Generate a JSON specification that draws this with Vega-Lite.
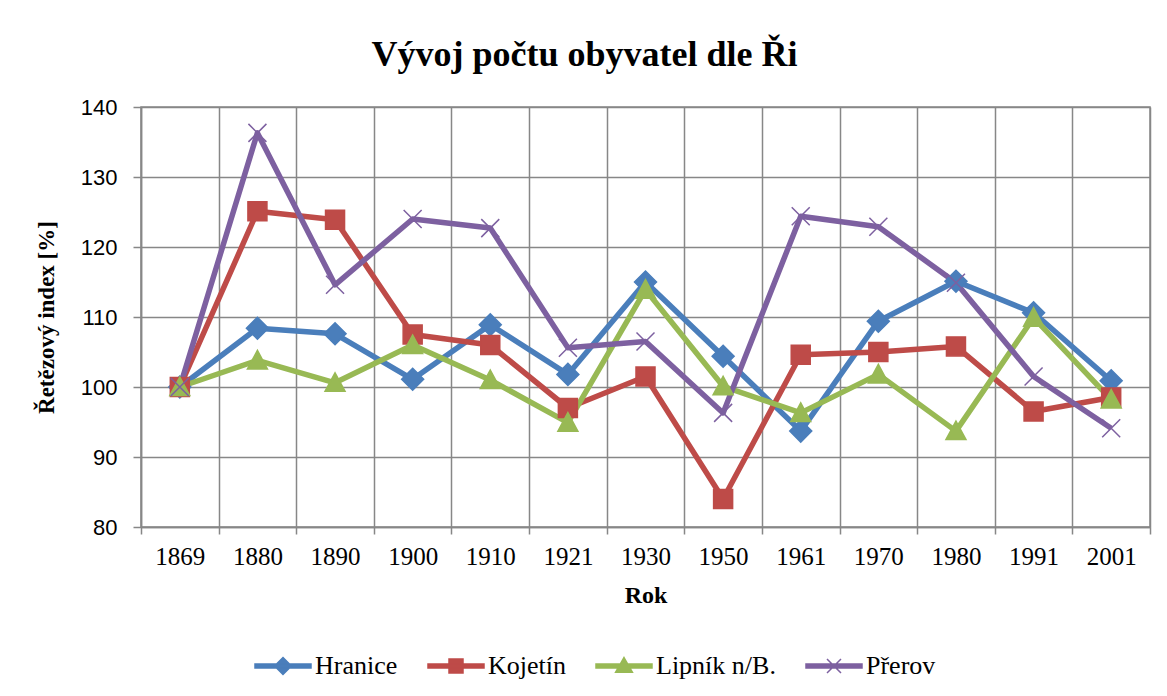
{
  "$schema": "https://vega.github.io/schema/vega-lite/v6.json",
  "autosize": "none",
  "width": 1009,
  "height": 420,
  "padding": {"left": 141, "top": 107, "right": 17, "bottom": 169},
  "background": "white",
  "title": {
    "text": "Vývoj počtu obyvatel dle Ři",
    "font": "Liberation Serif",
    "fontSize": 36,
    "fontWeight": "bold",
    "color": "black",
    "anchor": "middle",
    "dx": -61,
    "offset": 22
  },
  "config": {
    "view": {"stroke": "#878787", "strokeWidth": 1.5},
    "axis": {
      "gridColor": "#878787",
      "gridWidth": 1.5,
      "gridOpacity": 1,
      "domainColor": "#878787",
      "domainWidth": 1.5,
      "tickColor": "#878787",
      "tickWidth": 1.5,
      "labelColor": "black",
      "titleColor": "black"
    },
    "legend": {
      "labelFont": "Liberation Serif",
      "labelFontSize": 26,
      "labelColor": "black",
      "labelLimit": 300
    }
  },
  "data": {
    "values": [
      {"rok": "1869", "mesto": "Hranice", "index": 100},
      {"rok": "1880", "mesto": "Hranice", "index": 108.4},
      {"rok": "1890", "mesto": "Hranice", "index": 107.6},
      {"rok": "1900", "mesto": "Hranice", "index": 101.1},
      {"rok": "1910", "mesto": "Hranice", "index": 108.9},
      {"rok": "1921", "mesto": "Hranice", "index": 101.8},
      {"rok": "1930", "mesto": "Hranice", "index": 115.0},
      {"rok": "1950", "mesto": "Hranice", "index": 104.4},
      {"rok": "1961", "mesto": "Hranice", "index": 93.7},
      {"rok": "1970", "mesto": "Hranice", "index": 109.4},
      {"rok": "1980", "mesto": "Hranice", "index": 115.1},
      {"rok": "1991", "mesto": "Hranice", "index": 110.6},
      {"rok": "2001", "mesto": "Hranice", "index": 100.9},
      {"rok": "1869", "mesto": "Kojetín", "index": 100},
      {"rok": "1880", "mesto": "Kojetín", "index": 125.1},
      {"rok": "1890", "mesto": "Kojetín", "index": 123.9},
      {"rok": "1900", "mesto": "Kojetín", "index": 107.5},
      {"rok": "1910", "mesto": "Kojetín", "index": 106.0},
      {"rok": "1921", "mesto": "Kojetín", "index": 97.0},
      {"rok": "1930", "mesto": "Kojetín", "index": 101.5},
      {"rok": "1950", "mesto": "Kojetín", "index": 84.0},
      {"rok": "1961", "mesto": "Kojetín", "index": 104.6},
      {"rok": "1970", "mesto": "Kojetín", "index": 105.0},
      {"rok": "1980", "mesto": "Kojetín", "index": 105.8},
      {"rok": "1991", "mesto": "Kojetín", "index": 96.5},
      {"rok": "2001", "mesto": "Kojetín", "index": 98.5},
      {"rok": "1869", "mesto": "Lipník n/B.", "index": 100},
      {"rok": "1880", "mesto": "Lipník n/B.", "index": 103.8},
      {"rok": "1890", "mesto": "Lipník n/B.", "index": 100.6},
      {"rok": "1900", "mesto": "Lipník n/B.", "index": 106.0},
      {"rok": "1910", "mesto": "Lipník n/B.", "index": 101.0},
      {"rok": "1921", "mesto": "Lipník n/B.", "index": 94.9},
      {"rok": "1930", "mesto": "Lipník n/B.", "index": 113.9},
      {"rok": "1950", "mesto": "Lipník n/B.", "index": 100.1},
      {"rok": "1961", "mesto": "Lipník n/B.", "index": 96.3},
      {"rok": "1970", "mesto": "Lipník n/B.", "index": 101.8},
      {"rok": "1980", "mesto": "Lipník n/B.", "index": 93.7},
      {"rok": "1991", "mesto": "Lipník n/B.", "index": 109.9},
      {"rok": "2001", "mesto": "Lipník n/B.", "index": 98.2},
      {"rok": "1869", "mesto": "Přerov", "index": 100},
      {"rok": "1880", "mesto": "Přerov", "index": 136.3},
      {"rok": "1890", "mesto": "Přerov", "index": 114.6},
      {"rok": "1900", "mesto": "Přerov", "index": 124.0},
      {"rok": "1910", "mesto": "Přerov", "index": 122.7},
      {"rok": "1921", "mesto": "Přerov", "index": 105.6},
      {"rok": "1930", "mesto": "Přerov", "index": 106.5},
      {"rok": "1950", "mesto": "Přerov", "index": 96.3},
      {"rok": "1961", "mesto": "Přerov", "index": 124.4},
      {"rok": "1970", "mesto": "Přerov", "index": 122.9},
      {"rok": "1980", "mesto": "Přerov", "index": 114.9},
      {"rok": "1991", "mesto": "Přerov", "index": 101.5},
      {"rok": "2001", "mesto": "Přerov", "index": 94.1}
    ]
  },
  "encoding": {
    "x": {
      "field": "rok",
      "type": "ordinal",
      "sort": null,
      "scale": {"type": "band", "paddingInner": 0, "paddingOuter": 0},
      "axis": {
        "title": "Rok",
        "titleFont": "Liberation Serif",
        "titleFontSize": 24,
        "titleFontWeight": "bold",
        "titlePadding": 14,
        "labelFont": "Liberation Serif",
        "labelFontSize": 25,
        "labelAngle": 0,
        "labelPadding": 10,
        "tickSize": 7,
        "tickBand": "extent",
        "grid": true
      }
    },
    "y": {
      "field": "index",
      "type": "quantitative",
      "scale": {"domain": [80, 140], "nice": false, "zero": false},
      "axis": {
        "title": "Řetězový index [%]",
        "titleFont": "Liberation Serif",
        "titleFontSize": 23,
        "titleFontWeight": "bold",
        "titlePadding": 22,
        "labelFont": "Liberation Sans",
        "labelFontSize": 22,
        "labelPadding": 16,
        "tickSize": 8,
        "values": [80, 90, 100, 110, 120, 130, 140],
        "grid": true
      }
    },
    "color": {
      "field": "mesto",
      "type": "nominal",
      "scale": {"domain": ["Hranice", "Kojetín", "Lipník n/B.", "Přerov"], "range": ["#4A7EBB", "#BE4B48", "#98B954", "#7D60A0"]},
      "legend": {
        "title": null,
        "orient": "none",
        "direction": "horizontal",
        "legendX": 113,
        "legendY": 530,
        "padding": 0,
        "labelFont": "Liberation Serif",
        "labelFontSize": 26,
        "labelColor": "black",
        "labelOffset": 3,
        "columnPadding": 27,
        "symbolSize": 3136,
        "symbolStrokeWidth": 1.5,
        "symbolOpacity": 1,
        "encode": {
          "labels": {
            "update": {
              "font": {"value": "Liberation Serif"},
              "fontSize": {"value": 26},
              "fill": {"value": "black"}
            }
          },
          "symbols": {
            "update": {
              "shape": {"signal": "datum.value === 'Hranice' ? 'M-1,-0.07H1V0.07H-1Z M0,-0.3L0.3,0L0,0.3L-0.3,0Z' : datum.value === 'Kojetín' ? 'M-1,-0.07H1V0.07H-1Z M-0.25,-0.25H0.25V0.25H-0.25Z' : datum.value === 'Lipník n/B.' ? 'M-1,-0.07H1V0.07H-1Z M0,-0.3L0.3,0.22H-0.3Z' : 'M-1,-0.07H1V0.07H-1Z M-0.25,-0.25L0.25,0.25M-0.25,0.25L0.25,-0.25'"},
              "size": {"value": 3136},
              "fill": {"scale": "color", "field": "value"},
              "stroke": {"scale": "color", "field": "value"},
              "strokeWidth": {"value": 1.5},
              "opacity": {"value": 1}
            }
          }
        }
      }
    }
  },
  "layer": [
    {
      "mark": {"type": "line", "strokeWidth": 5.5, "strokeJoin": "round"}
    },
    {
      "mark": {
        "type": "point",
        "filled": true,
        "size": 400,
        "strokeWidth": 1.5,
        "opacity": 1,
        "stroke": {"expr": "scale('color', datum.mesto)"},
        "shape": {"expr": "datum.mesto === 'Hranice' ? 'M0,-1.1L1.1,0L0,1.1L-1.1,0Z' : datum.mesto === 'Kojetín' ? 'M-0.95,-0.95H0.95V0.95H-0.95Z' : datum.mesto === 'Lipník n/B.' ? 'M0,-1L1,0.85H-1Z' : 'M-0.9,-0.9L0.9,0.9M-0.9,0.9L0.9,-0.9'"}
      }
    }
  ]
}
